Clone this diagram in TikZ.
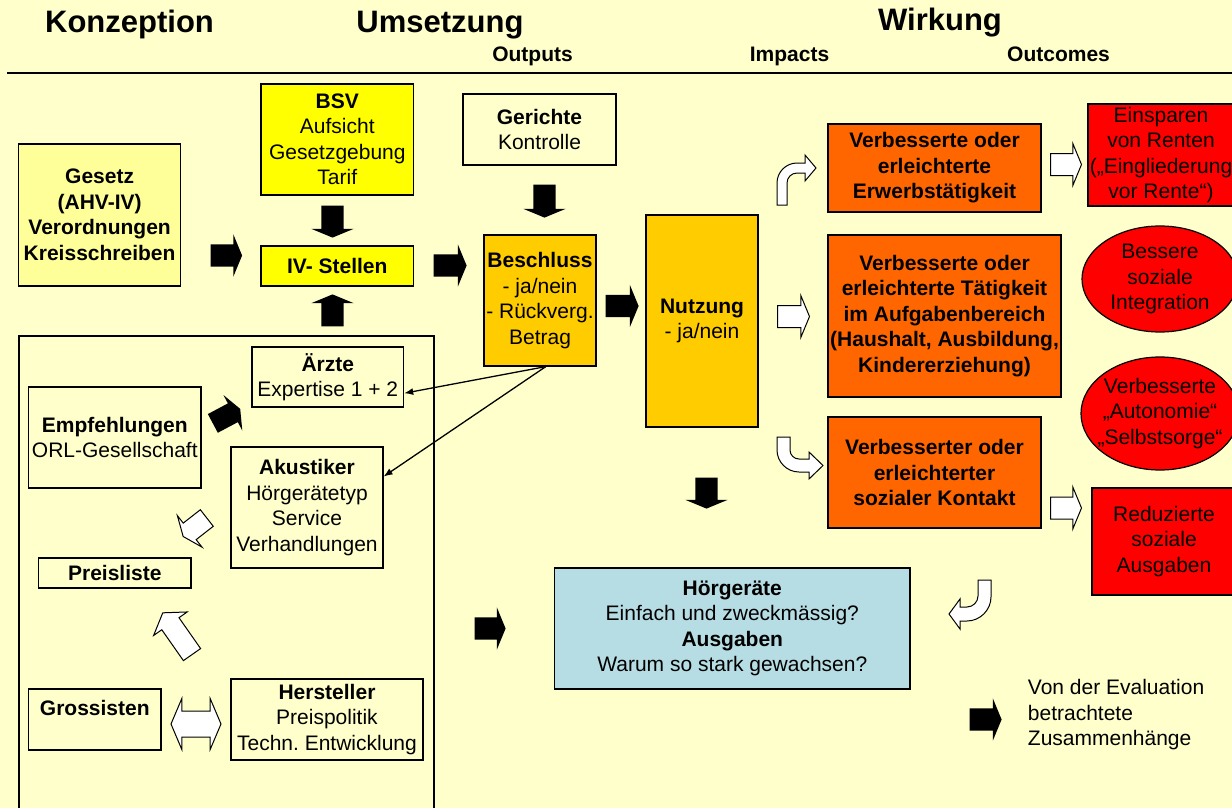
\documentclass[tikz,border=0pt]{standalone}
\usepackage{fontspec}
\setmainfont{Liberation Sans}
\usetikzlibrary{shapes.arrows, shapes.geometric, arrows.meta}
\definecolor{bgyellow}{HTML}{FFFFCC}
\definecolor{lawyellow}{HTML}{FFFF99}
\definecolor{ivyellow}{HTML}{FFFF00}
\definecolor{decgold}{HTML}{FFCC00}
\definecolor{impactorange}{HTML}{FF6600}
\definecolor{outcomered}{HTML}{FF0000}
\definecolor{hgblue}{HTML}{B7DDE4}

\begin{document}
\begin{tikzpicture}[x=1pt, y=-1pt, line width=1.2pt,
  every node/.style={font=\fontsize{21}{25.5}\selectfont},
  boldtext/.style={font=\fontsize{21}{25.5}\selectfont\bfseries},
  box/.style={draw, rectangle, align=center, inner sep=0pt},
  oval/.style={draw, ellipse, align=center, inner sep=-8pt, fill=outcomered},
  head/.style={font=\fontsize{31}{36}\selectfont\bfseries, anchor=base},
  sub/.style={font=\fontsize{21}{25.5}\selectfont\bfseries, anchor=base},
  blk/.style={single arrow, fill=black, draw=none, inner xsep=0pt, inner ysep=10.5pt, minimum width=41, minimum height=32, single arrow head extend=10, single arrow tip angle=135, anchor=tail},
  hollow/.style={blk, fill=white, draw=black, line width=1pt},
  bent/.style={fill=white, draw=black, line width=1pt},
  link/.style={-{Latex[length=9pt,width=7pt]}, line width=1.3pt}]
\useasboundingbox (0,0) rectangle (1232,808);
\fill[bgyellow] (0,0) rectangle (1232,808);

\node[head] (konz) at (129.5,33) {Konzeption};
\node[head] (umsetz) at (440,33) {Umsetzung};
\node[head] (wirk) at (940,31) {Wirkung};
\node[sub] (outp) at (532.5,62) {Outputs};
\node[sub] (impc) at (789.5,62) {Impacts};
\node[sub] (outc) at (1058.5,62) {Outcomes};
\draw[line width=1.5pt] (7,73) -- (1232,73);

\node[box, boldtext, fill=lawyellow, minimum width=162, minimum height=142] (gesetz) at (99.6,215) {Gesetz\\(AHV-IV)\\Verordnungen\\Kreisschreiben};
\node[box, fill=ivyellow, minimum width=152.6, minimum height=111] (bsv) at (337.3,139.5) {\textbf{BSV}\\Aufsicht\\Gesetzgebung\\Tarif};
\node[box, boldtext, fill=ivyellow, minimum width=152.6, minimum height=40] (iv) at (337.3,266) {IV- Stellen};
\node[box, minimum width=153, minimum height=71] (ger) at (539.5,129.5) {\textbf{Gerichte}\\Kontrolle};
\node[box, fill=decgold, minimum width=112, minimum height=131] (besch) at (540,300.5) {\textbf{Beschluss}\\- ja/nein\\- Rückverg.\\Betrag};
\node[box, fill=decgold, minimum width=112, minimum height=212] (nutz) at (702,321) {\textbf{Nutzung}\\- ja/nein};

\node[box, boldtext, fill=impactorange, minimum width=213, minimum height=88] (erwerb) at (934.5,168) {Verbesserte oder\\erleichterte\\Erwerbstätigkeit};
\node[box, boldtext, fill=impactorange, minimum width=233, minimum height=162] (taet) at (944.5,316) {Verbesserte oder\\erleichterte Tätigkeit\\im Aufgabenbereich\\(Haushalt, Ausbildung,\\Kindererziehung)};
\node[box, boldtext, fill=impactorange, minimum width=213, minimum height=111] (kontakt) at (934.5,472.5) {Verbesserter oder\\erleichterter\\sozialer Kontakt};

\node[box, fill=outcomered, minimum width=146, minimum height=102] (renten) at (1161,155) {Einsparen\\von Renten\\(„Eingliederung\\vor Rente“)};
\node[oval, minimum width=156, minimum height=106] (integ) at (1160,279) {Bessere\\soziale\\Integration};
\node[oval, minimum width=158, minimum height=113] (auton) at (1160,413.5) {Verbesserte\\„Autonomie“\\„Selbstsorge“};
\node[box, fill=outcomered, minimum width=144, minimum height=107] (ausg) at (1164,541.5) {Reduzierte\\soziale\\Ausgaben};

\node[box, fill=hgblue, minimum width=355.4, minimum height=121] (hg) at (732.3,628.5) {\textbf{Hörgeräte}\\Einfach und zweckmässig?\\\textbf{Ausgaben}\\Warum so stark gewachsen?};

\draw (19,808) |- (434,336) -- (434,808);
\node[box, minimum width=151.6, minimum height=60] (aerzte) at (327.8,377) {\textbf{Ärzte}\\Expertise 1 + 2};
\node[box, minimum width=172.4, minimum height=101] (empf) at (114.8,437.5) {\textbf{Empfehlungen}\\ORL-Gesellschaft};
\node[box, minimum width=152, minimum height=121] (akust) at (307,507.5) {\textbf{Akustiker}\\Hörgerätetyp\\Service\\Verhandlungen};
\node[box, boldtext, minimum width=152.4, minimum height=30] (preis) at (114.8,573) {Preisliste};
\node[box, boldtext, minimum width=132.4, minimum height=61, text depth=23pt] (gross) at (94.8,719.5) {Grossisten};
\node[box, minimum width=192, minimum height=81] (herst) at (327,719.5) {\textbf{Hersteller}\\Preispolitik\\Techn.\ Entwicklung};

\node[blk, minimum height=31.5] (a1) at (210,255.5) {};
\node[blk, rotate=-90] (a2) at (332.5,205) {};
\node[blk, rotate=90] (a3) at (332.5,327) {};
\node[blk, minimum height=33] (a4) at (433,265.5) {};
\node[blk, rotate=-90, minimum height=33] (a5) at (544.5,184) {};
\node[blk, minimum height=33] (a6) at (605,306) {};
\node[blk, rotate=-90, minimum height=31] (a7) at (706.5,477) {};
\node[blk, minimum height=31] (a8) at (474,628.5) {};
\node[blk] (a9) at (969,719.5) {};
\node[blk, rotate=28, minimum height=31, minimum width=39, inner ysep=10pt, single arrow head extend=9.5] (a10) at (212.3,423.7) {};

\node[hollow, minimum height=31] (w1) at (1050,164.5) {};
\node[hollow] (w2) at (777,316.5) {};
\node[hollow, minimum height=31] (w3) at (1050,508) {};
\node[hollow, rotate=218, minimum height=30, minimum width=39, inner ysep=10pt, single arrow head extend=9.5] (w4) at (207.2,517.7) {};
\node[hollow, rotate=125, minimum height=51, minimum width=40, inner ysep=10pt, single arrow tip angle=114] (w5) at (192.3,655) {};
\node[double arrow, fill=white, draw=black, line width=1pt, inner xsep=0pt, inner ysep=12.5pt, minimum width=50, minimum height=50, double arrow head extend=12.5, double arrow tip angle=134] (w6) at (196,724) {};

\draw[bent] (777,205) -- (777,183) .. controls (777,172) and (786,163) .. (797,163) -- (805,163) -- (805,155) -- (816,168) -- (805,181) -- (805,173) -- (797,173) .. controls (791.5,173) and (787,177.5) .. (787,183) -- (787,205) -- cycle;
\draw[bent] (777,437) -- (777,450) .. controls (777,462) and (787,472) .. (799,472) -- (809,472) -- (809,479) -- (823,465.5) -- (809,452) -- (809,459) -- (799,459) .. controls (794,459) and (790,455) .. (790,450) -- (790,437) -- cycle;
\draw[bent] (991,580) -- (991,597) .. controls (991,610) and (980,621) .. (967,621) -- (960,621) -- (960,629) -- (949,614) -- (960,599) -- (960,607) -- (967,607) .. controls (973,607) and (978,602) .. (978,596) -- (978,580) -- cycle;

\draw[link] (besch.-85) -- (aerzte.-12);
\draw[link] (besch.-85) -- (akust.22);

\node[anchor=west, align=left] (legend) at (1024,715) {Von der Evaluation\\betrachtete\\Zusammenhänge};
\end{tikzpicture}
\end{document}
